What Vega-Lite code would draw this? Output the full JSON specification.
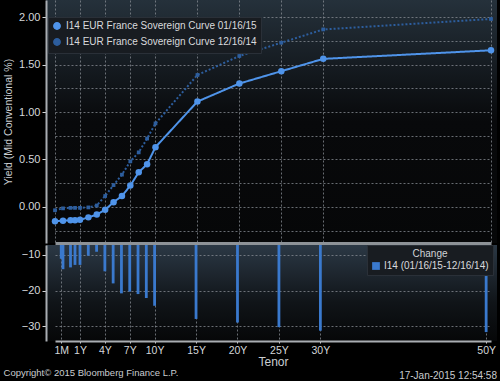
{
  "$schema": "https://vega.github.io/schema/vega-lite/v6.json",
  "background": "#000000",
  "padding": {"left": 3, "top": 0, "right": 3, "bottom": 0},
  "spacing": 1,
  "resolve": {"scale": {"color": "independent", "shape": "independent", "size": "independent"}, "legend": {"color": "independent", "shape": "independent"}},
  "config": {
    "font": "Liberation Sans",
    "axis": {
      "labelColor": "#d4d7da",
      "labelFontSize": 11,
      "titleColor": "#c9cdd1",
      "titleFontSize": 10.5,
      "titleFontWeight": "normal",
      "gridColor": "#8a8f95",
      "gridDash": [2, 2],
      "gridOpacity": 0.75,
      "gridWidth": 1,
      "domainColor": "#a9adb2",
      "domainWidth": 2,
      "tickColor": "#d4d7da",
      "tickSize": 4,
      "labelPadding": 2
    },
    "legend": {
      "labelColor": "#d8dadd",
      "labelFontSize": 10,
      "labelLimit": 0,
      "titleColor": "#d0d3d6",
      "titleFontSize": 10,
      "titleFontWeight": "normal"
    },
    "view": {"stroke": null}
  },
  "datasets": {
    "curves": [
      {"series": "I14 EUR France Sovereign Curve 01/16/15", "tenor": 0.0833, "yield": -0.15},
      {"series": "I14 EUR France Sovereign Curve 01/16/15", "tenor": 0.25, "yield": -0.145},
      {"series": "I14 EUR France Sovereign Curve 01/16/15", "tenor": 0.5, "yield": -0.14},
      {"series": "I14 EUR France Sovereign Curve 01/16/15", "tenor": 0.75, "yield": -0.14},
      {"series": "I14 EUR France Sovereign Curve 01/16/15", "tenor": 1, "yield": -0.135},
      {"series": "I14 EUR France Sovereign Curve 01/16/15", "tenor": 2, "yield": -0.11},
      {"series": "I14 EUR France Sovereign Curve 01/16/15", "tenor": 3, "yield": -0.08},
      {"series": "I14 EUR France Sovereign Curve 01/16/15", "tenor": 4, "yield": -0.03},
      {"series": "I14 EUR France Sovereign Curve 01/16/15", "tenor": 5, "yield": 0.05},
      {"series": "I14 EUR France Sovereign Curve 01/16/15", "tenor": 6, "yield": 0.115},
      {"series": "I14 EUR France Sovereign Curve 01/16/15", "tenor": 7, "yield": 0.225},
      {"series": "I14 EUR France Sovereign Curve 01/16/15", "tenor": 8, "yield": 0.365},
      {"series": "I14 EUR France Sovereign Curve 01/16/15", "tenor": 9, "yield": 0.45},
      {"series": "I14 EUR France Sovereign Curve 01/16/15", "tenor": 10, "yield": 0.63},
      {"series": "I14 EUR France Sovereign Curve 01/16/15", "tenor": 15, "yield": 1.11},
      {"series": "I14 EUR France Sovereign Curve 01/16/15", "tenor": 20, "yield": 1.30},
      {"series": "I14 EUR France Sovereign Curve 01/16/15", "tenor": 25, "yield": 1.43},
      {"series": "I14 EUR France Sovereign Curve 01/16/15", "tenor": 30, "yield": 1.56},
      {"series": "I14 EUR France Sovereign Curve 01/16/15", "tenor": 50, "yield": 1.65},
      {"series": "I14 EUR France Sovereign Curve 12/16/14", "tenor": 0.0833, "yield": -0.035},
      {"series": "I14 EUR France Sovereign Curve 12/16/14", "tenor": 0.25, "yield": -0.015},
      {"series": "I14 EUR France Sovereign Curve 12/16/14", "tenor": 0.5, "yield": -0.01},
      {"series": "I14 EUR France Sovereign Curve 12/16/14", "tenor": 0.75, "yield": -0.01},
      {"series": "I14 EUR France Sovereign Curve 12/16/14", "tenor": 1, "yield": -0.01},
      {"series": "I14 EUR France Sovereign Curve 12/16/14", "tenor": 2, "yield": -0.005},
      {"series": "I14 EUR France Sovereign Curve 12/16/14", "tenor": 3, "yield": 0.015},
      {"series": "I14 EUR France Sovereign Curve 12/16/14", "tenor": 4, "yield": 0.115},
      {"series": "I14 EUR France Sovereign Curve 12/16/14", "tenor": 5, "yield": 0.23},
      {"series": "I14 EUR France Sovereign Curve 12/16/14", "tenor": 6, "yield": 0.34},
      {"series": "I14 EUR France Sovereign Curve 12/16/14", "tenor": 7, "yield": 0.48},
      {"series": "I14 EUR France Sovereign Curve 12/16/14", "tenor": 8, "yield": 0.575},
      {"series": "I14 EUR France Sovereign Curve 12/16/14", "tenor": 9, "yield": 0.72},
      {"series": "I14 EUR France Sovereign Curve 12/16/14", "tenor": 10, "yield": 0.88},
      {"series": "I14 EUR France Sovereign Curve 12/16/14", "tenor": 15, "yield": 1.39},
      {"series": "I14 EUR France Sovereign Curve 12/16/14", "tenor": 20, "yield": 1.59},
      {"series": "I14 EUR France Sovereign Curve 12/16/14", "tenor": 25, "yield": 1.73},
      {"series": "I14 EUR France Sovereign Curve 12/16/14", "tenor": 30, "yield": 1.87},
      {"series": "I14 EUR France Sovereign Curve 12/16/14", "tenor": 50, "yield": 1.98}
    ],
    "change": [
      {"tenor": 0.0833, "change": -11.1},
      {"tenor": 0.25, "change": -14},
      {"tenor": 0.5, "change": -13.5},
      {"tenor": 0.75, "change": -12.8},
      {"tenor": 1, "change": -12.8},
      {"tenor": 2, "change": -10.2},
      {"tenor": 3, "change": -9.1},
      {"tenor": 4, "change": -14.6},
      {"tenor": 5, "change": -18},
      {"tenor": 6, "change": -20.8},
      {"tenor": 7, "change": -20.3},
      {"tenor": 8, "change": -21},
      {"tenor": 9, "change": -22.1},
      {"tenor": 10, "change": -24.3},
      {"tenor": 15, "change": -28},
      {"tenor": 20, "change": -29},
      {"tenor": 25, "change": -30.3},
      {"tenor": 30, "change": -31.3},
      {"tenor": 50, "change": -31.7}
    ]
  },
  "title": {
    "text": "Copyright© 2015 Bloomberg Finance L.P.",
    "orient": "bottom",
    "anchor": "start",
    "frame": "bounds",
    "fontSize": 9.5,
    "fontWeight": "normal",
    "color": "#c9ccd0",
    "offset": -13
  },
  "vconcat": [
    {
      "width": 451,
      "height": 243,
      "view": {"fill": {"gradient": "linear", "x1": 0, "y1": 0, "x2": 0, "y2": 1, "stops": [{"offset": 0, "color": "#25313b"}, {"offset": 0.5, "color": "#08090b"}, {"offset": 1, "color": "#060708"}]}},
      "data": {"name": "curves"},
      "encoding": {
        "x": {
          "field": "tenor",
          "type": "quantitative",
          "scale": {"domain": [0.0833, 0.25, 0.5, 0.75, 1, 50], "range": [9, 17, 24.5, 29, 34, 445], "zero": false, "nice": false},
          "axis": {"values": [0.0833, 1, 4, 7, 10, 15, 20, 25, 30, 50], "labels": false, "ticks": false, "title": null, "domainColor": "#8d9297", "domainWidth": 3}
        },
        "y": {
          "field": "yield",
          "type": "quantitative",
          "scale": {"domain": [-0.38, 2.18], "zero": false, "nice": false},
          "axis": {
            "title": "Yield (Mid Conventional %)",
            "titlePadding": 5,
            "values": [-0.25, 0, 0.25, 0.5, 0.75, 1, 1.25, 1.5, 1.75, 2],
            "labelExpr": "abs(datum.value*2 - round(datum.value*2)) < 0.001 ? format(datum.value, '.2f') : ''",
            "tickOpacity": {"condition": {"test": "abs(datum.value*2 - round(datum.value*2)) < 0.001", "value": 1}, "value": 0}
          }
        },
        "color": {
          "field": "series",
          "type": "nominal",
          "scale": {"domain": ["I14 EUR France Sovereign Curve 01/16/15", "I14 EUR France Sovereign Curve 12/16/14"], "range": ["#4f94ea", "#2d5e9e"]},
          "legend": {
            "title": null,
            "orient": "none",
            "legendX": 2,
            "legendY": 17,
            "fillColor": "#181c21",
            "strokeColor": "#2a3038",
            "padding": 4,
            "rowPadding": 2,
            "symbolSize": 40,
            "labelOffset": 4
          }
        }
      },
      "layer": [
        {
          "mark": {"type": "line", "strokeWidth": 2, "clip": true},
          "encoding": {
            "strokeDash": {"field": "series", "type": "nominal", "scale": {"range": [[1, 0], [2, 2]]}, "legend": null},
            "strokeWidth": {"field": "series", "type": "nominal", "scale": {"range": [2.2, 1.6]}, "legend": null}
          }
        },
        {
          "mark": {"type": "point", "filled": true, "opacity": 1, "clip": true},
          "encoding": {
            "shape": {"field": "series", "type": "nominal", "scale": {"range": ["circle", "square"]}, "legend": {"title": null, "orient": "none", "legendX": 2, "legendY": 17}},
            "size": {"field": "series", "type": "nominal", "scale": {"range": [42, 14]}, "legend": null}
          }
        }
      ]
    },
    {
      "width": 451,
      "height": 96,
      "view": {"fill": {"gradient": "linear", "x1": 0, "y1": 0, "x2": 0, "y2": 1, "stops": [{"offset": 0, "color": "#2b3845"}, {"offset": 0.6, "color": "#101418"}, {"offset": 1, "color": "#060708"}]}},
      "title": {
        "text": "17-Jan-2015 12:54:58",
        "orient": "bottom",
        "anchor": "end",
        "fontSize": 10,
        "fontWeight": "normal",
        "color": "#c9ccd0",
        "offset": 3
      },
      "data": {"name": "change"},
      "mark": {"type": "bar", "size": 2.8, "clip": true},
      "encoding": {
        "x": {
          "field": "tenor",
          "type": "quantitative",
          "scale": {"domain": [0.0833, 0.25, 0.5, 0.75, 1, 50], "range": [9, 17, 24.5, 29, 34, 445], "zero": false, "nice": false},
          "axis": {
            "values": [0.0833, 1, 4, 7, 10, 15, 20, 25, 30, 50],
            "labelExpr": "datum.value < 0.5 ? '1M' : datum.value + 'Y'",
            "labelFontSize": 10.5,
            "title": "Tenor",
            "titleFontSize": 12,
            "titlePadding": 1,
            "labelPadding": 1,
            "tickSize": 3,
            "tickDash": [2, 2]
          }
        },
        "y": {
          "field": "change",
          "type": "quantitative",
          "scale": {"domain": [-34.2, -7.2], "zero": false, "nice": false},
          "axis": {"values": [-10, -20, -30], "title": null, "format": "d"}
        },
        "y2": {"datum": 0},
        "color": {
          "datum": "I14 (01/16/15-12/16/14)",
          "type": "nominal",
          "scale": {"range": ["#3a79cd"]},
          "legend": {
            "title": "Change",
            "orient": "none",
            "legendX": 321,
            "legendY": 0,
            "titleAnchor": "middle",
            "titleAlign": "center",
            "titlePadding": 2,
            "fillColor": "#181c21",
            "strokeColor": "#2a3038",
            "padding": 4,
            "symbolType": "square",
            "symbolSize": 60,
            "labelOffset": 3
          }
        }
      }
    }
  ]
}
